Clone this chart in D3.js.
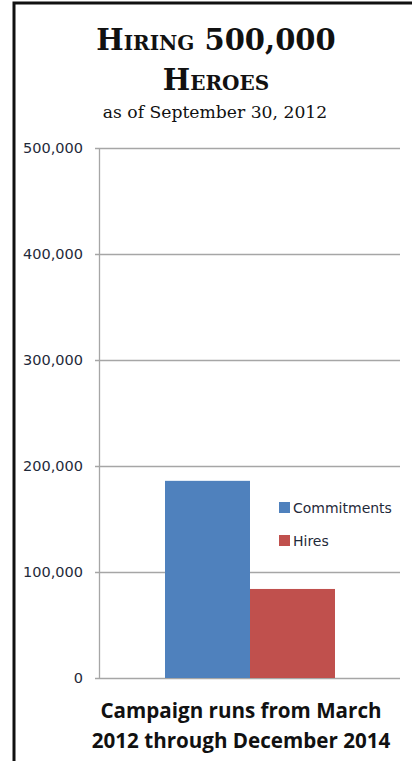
<!DOCTYPE html>
<html>
<head>
<meta charset="utf-8">
<script src="https://cdn.jsdelivr.net/npm/d3@7"></script>
<style>
  body { margin: 0; background: #fff; }
  svg { display: block; }
</style>
</head>
<body>
<svg id="chart"></svg>
<script>
// data
const seriesNames = ['Commitments', 'Hires'];
const seriesValues = [186000, 84000];
const seriesColors = ['#4f81bd', '#c0504d'];
const yTicks = [0, 100000, 200000, 300000, 400000, 500000];
const titleLines = ['Hiring 500,000', 'Heroes'];
const subtitle = 'as of September 30, 2012';
const xLabelLines = ['Campaign runs from March', '2012 through December 2014'];

const width = 412, height = 761;
const margin = {top: 148, right: 12, bottom: 83, left: 99};

const svg = d3.select('#chart')
    .attr('width', width)
    .attr('height', height);

// frame (left + top edges of the slide box)
svg.append('path')
    .attr('d', `M14,${height} L14,3 L${width},3`)
    .attr('fill', 'none')
    .attr('stroke', '#111')
    .attr('stroke-width', 3);

const innerW = width - margin.left - margin.right;
const innerH = height - margin.top - margin.bottom;

const chart = svg.append('g')
    .attr('transform', `translate(${margin.left},${margin.top})`);

const yScale = d3.scaleLinear()
    .domain([0, 500000])
    .range([innerH, 0]);

const xScale = d3.scaleBand()
    .domain(seriesNames)
    .range([66, 236]);

// gridlines
chart.append('g')
    .selectAll('line')
    .data(yTicks)
    .join('line')
    .attr('x1', -4)
    .attr('x2', innerW)
    .attr('y1', d => Math.round(yScale(d)) + 0.5)
    .attr('y2', d => Math.round(yScale(d)) + 0.5)
    .attr('stroke', '#a6a6a6')
    .attr('stroke-width', 1.3);

// y axis
const yAxis = d3.axisLeft(yScale)
    .tickValues(yTicks)
    .tickSize(0)
    .tickPadding(16)
    .tickFormat(d3.format(','));

chart.append('g')
    .call(yAxis)
    .call(g => g.select('.domain').remove())
    .call(g => g.selectAll('text')
        .style('font-family', '"DejaVu Sans", Verdana, sans-serif')
        .style('font-size', '14.5px')
        .attr('fill', '#1f2a3a'));

chart.append('line')
    .attr('x1', 0.5).attr('x2', 0.5)
    .attr('y1', 0).attr('y2', innerH)
    .attr('stroke', '#a6a6a6')
    .attr('stroke-width', 1.3);

// bars
chart.selectAll('.bar')
    .data(seriesNames)
    .join('rect')
    .attr('class', 'bar')
    .attr('x', d => xScale(d))
    .attr('width', xScale.bandwidth())
    .attr('y', (d, i) => yScale(seriesValues[i]))
    .attr('height', (d, i) => innerH - yScale(seriesValues[i]))
    .attr('fill', (d, i) => seriesColors[i]);

// legend
const legend = chart.append('g')
    .attr('transform', 'translate(180,354)');

legend.selectAll('rect')
    .data(seriesNames)
    .join('rect')
    .attr('x', 0)
    .attr('y', (d, i) => i * 33)
    .attr('width', 11)
    .attr('height', 11)
    .attr('fill', (d, i) => seriesColors[i]);

legend.selectAll('text')
    .data(seriesNames)
    .join('text')
    .attr('x', 14)
    .attr('y', (d, i) => i * 33 + 10.5)
    .style('font-family', '"DejaVu Sans", Verdana, sans-serif')
    .style('font-size', '14px')
    .attr('fill', '#1f2a3a')
    .text(d => d);

// title
svg.selectAll('.title')
    .data(titleLines)
    .join('text')
    .attr('class', 'title')
    .attr('x', 216)
    .attr('y', (d, i) => 50 + i * 40)
    .attr('text-anchor', 'middle')
    .style('font-family', '"DejaVu Serif", serif')
    .style('font-weight', 'bold')
    .style('font-variant', 'small-caps')
    .style('font-size', '29px')
    .attr('fill', '#111')
    .text(d => d);

svg.append('text')
    .attr('x', 215)
    .attr('y', 118)
    .attr('text-anchor', 'middle')
    .style('font-family', '"DejaVu Serif", serif')
    .style('font-size', '17.2px')
    .attr('fill', '#111')
    .text(subtitle);

// x axis title
svg.selectAll('.xlabel')
    .data(xLabelLines)
    .join('text')
    .attr('class', 'xlabel')
    .attr('x', 241)
    .attr('y', (d, i) => 718 + i * 30)
    .attr('text-anchor', 'middle')
    .style('font-family', '"Open Sans", sans-serif')
    .style('font-weight', 'bold')
    .style('font-size', '20.6px')
    .attr('fill', '#111')
    .text(d => d);
</script>
</body>
</html>
